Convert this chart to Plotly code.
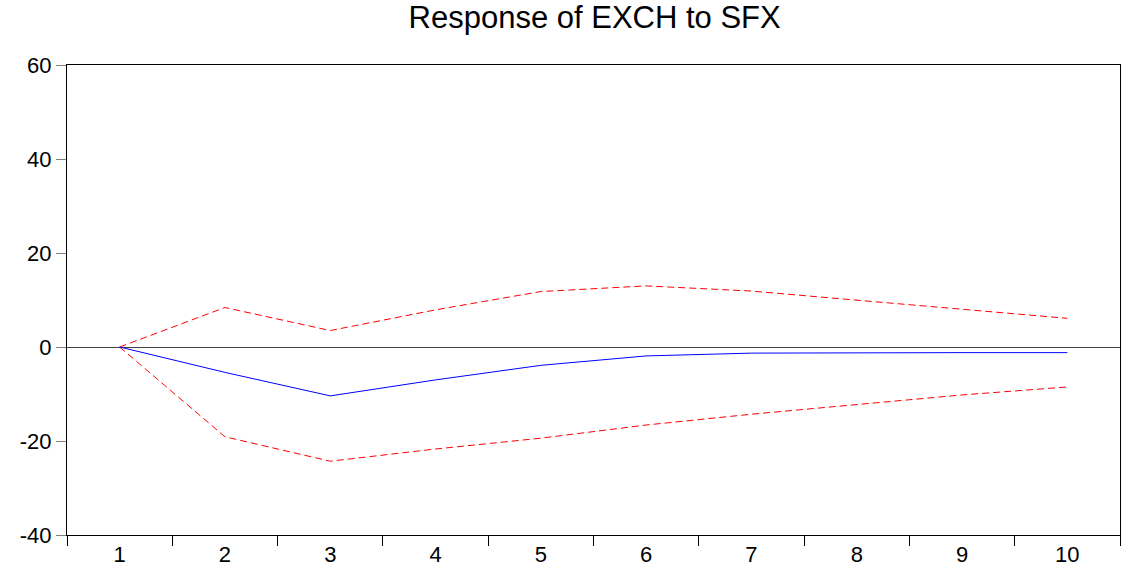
import plotly.graph_objects as go

periods = ["1", "2", "3", "4", "5", "6", "7", "8", "9", "10"]
response = [0.0, -5.4, -10.4, -7.0, -3.9, -1.9, -1.3, -1.2, -1.2, -1.2]
upper_band = [0.0, 8.4, 3.5, 7.9, 11.8, 13.0, 11.9, 10.0, 8.0, 6.1]
lower_band = [0.0, -19.1, -24.3, -21.7, -19.4, -16.6, -14.3, -12.3, -10.2, -8.5]
y_ticks = [-40, -20, 0, 20, 40, 60]
y_tick_text = ["-40", "-20", "0", "20", "40", "60"]

fig = go.Figure()
fig.add_trace(go.Scatter(x=periods, y=upper_band, mode="lines",
                         line=dict(color="#FF0000", width=1, dash="7px,4px"), showlegend=False))
fig.add_trace(go.Scatter(x=periods, y=lower_band, mode="lines",
                         line=dict(color="#FF0000", width=1, dash="7px,4px"), showlegend=False))
fig.add_trace(go.Scatter(x=periods, y=response, mode="lines",
                         line=dict(color="#0000FF", width=1), showlegend=False))

fig.update_layout(
    width=1122, height=572,
    margin=dict(l=67, r=2, t=65, b=37, autoexpand=False),
    paper_bgcolor="white", plot_bgcolor="white",
    font=dict(family="Liberation Sans, Arial, sans-serif", size=22, color="black"),
    title=dict(text="Response of EXCH to SFX", x=0.530, xanchor="center",
               y=0.97, yanchor="middle", font=dict(size=31)),
)
fig.update_xaxes(type="category", range=[-0.5, 9.5], tickson="boundaries",
                 ticks="outside", ticklen=10, tickcolor="black", tickwidth=1,
                 showline=True, linecolor="black", linewidth=1, mirror=True,
                 showgrid=False, zeroline=False, ticklabelstandoff=0)
fig.update_yaxes(range=[-40, 60], tickvals=y_ticks, ticktext=y_tick_text,
                 ticks="outside", ticklen=10,
                 tickcolor="gray", tickwidth=1, showline=True, linecolor="black",
                 linewidth=1, mirror=True, showgrid=False, zeroline=True,
                 zerolinecolor="#444444", zerolinewidth=1)

fig.write_html("out.html")
